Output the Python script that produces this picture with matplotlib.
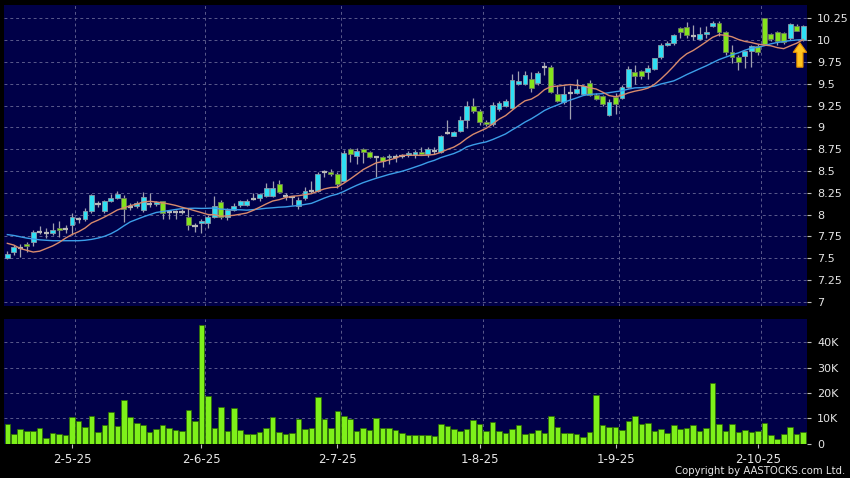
import numpy as np
import pandas as pd
import matplotlib
matplotlib.use("Agg")
import matplotlib.pyplot as plt
from matplotlib import patches

# daily bars, index 0 = first bar on screen (bar 10 is 2-5-25)
opens = [7.50, 7.57, 7.62, 7.66, 7.68, 7.80, 7.79, 7.79, 7.85, 7.83,
         7.88, 7.945, 7.945, 8.04, 8.12, 8.04, 8.155, 8.185, 8.19, 8.09,
         8.10, 8.05, 8.12, 8.12, 8.15, 8.025, 8.025, 8.025, 7.97, 7.87,
         7.90, 7.905, 7.97, 8.14, 7.97, 8.05, 8.105, 8.11, 8.18, 8.185,
         8.215, 8.215, 8.35, 8.21, 8.20, 8.10, 8.185, 8.275, 8.275, 8.485,
         8.49, 8.46, 8.385, 8.75, 8.67, 8.75, 8.715, 8.655, 8.655, 8.655,
         8.66, 8.675, 8.68, 8.68, 8.72, 8.695, 8.73, 8.72, 8.94, 8.905,
         8.96, 9.09, 9.245, 9.185, 9.06, 9.035, 9.205, 9.245, 9.22, 9.50,
         9.50, 9.55, 9.51, 9.69, 9.69, 9.38, 9.295, 9.395, 9.39, 9.38,
         9.505, 9.37, 9.36, 9.14, 9.35, 9.335, 9.46, 9.63, 9.65, 9.63,
         9.665, 9.81, 9.945, 9.965, 10.145, 10.155, 10.045, 10.015, 10.065, 10.16,
         10.20, 10.095, 9.86, 9.81, 9.82, 9.875, 9.935, 10.25, 10.065, 10.095,
         10.08, 10.02, 10.165, 10.00]
highs = [7.58, 7.65, 7.66, 7.68, 7.82, 7.87, 7.85, 7.90, 7.93, 7.88,
         8.02, 7.97, 8.08, 8.24, 8.16, 8.17, 8.23, 8.27, 8.22, 8.13,
         8.15, 8.26, 8.25, 8.16, 8.16, 8.05, 8.05, 8.06, 8.07, 7.90,
         7.95, 8.00, 8.21, 8.17, 8.08, 8.13, 8.17, 8.18, 8.25, 8.25,
         8.36, 8.39, 8.40, 8.25, 8.21, 8.20, 8.32, 8.39, 8.49, 8.51,
         8.52, 8.49, 8.74, 8.76, 8.76, 8.76, 8.73, 8.67, 8.67, 8.69,
         8.70, 8.70, 8.73, 8.74, 8.77, 8.77, 8.77, 8.91, 9.08, 8.96,
         9.13, 9.30, 9.34, 9.21, 9.08, 9.29, 9.30, 9.33, 9.61, 9.65,
         9.65, 9.64, 9.65, 9.75, 9.715, 9.48, 9.47, 9.48, 9.55, 9.49,
         9.54, 9.39, 9.37, 9.33, 9.39, 9.49, 9.70, 9.72, 9.66, 9.72,
         9.80, 9.97, 9.99, 10.07, 10.15, 10.21, 10.17, 10.15, 10.16, 10.22,
         10.22, 10.10, 9.95, 9.83, 9.88, 9.95, 9.96, 10.25, 10.08, 10.11,
         10.09, 10.20, 10.18, 10.17]
lows = [7.49, 7.535, 7.51, 7.57, 7.64, 7.78, 7.73, 7.76, 7.74, 7.79,
        7.77, 7.90, 7.93, 8.02, 8.09, 8.02, 8.14, 8.18, 7.92, 8.05,
        8.08, 8.03, 8.09, 8.10, 7.95, 7.95, 7.95, 8.01, 7.82, 7.80,
        7.79, 7.85, 7.96, 7.95, 7.94, 8.04, 8.09, 8.10, 8.17, 8.16,
        8.20, 8.20, 8.25, 8.17, 8.11, 8.06, 8.17, 8.25, 8.26, 8.43,
        8.44, 8.30, 8.38, 8.605, 8.575, 8.59, 8.65, 8.43, 8.54, 8.58,
        8.60, 8.65, 8.66, 8.65, 8.68, 8.66, 8.70, 8.71, 8.92, 8.90,
        8.95, 8.99, 9.17, 9.03, 9.01, 9.02, 9.19, 9.23, 9.21, 9.48,
        9.48, 9.41, 9.49, 9.60, 9.39, 9.29, 9.27, 9.10, 9.38, 9.37,
        9.36, 9.31, 9.25, 9.13, 9.15, 9.32, 9.45, 9.50, 9.55, 9.55,
        9.66, 9.78, 9.93, 9.95, 10.03, 10.02, 10.00, 10.00, 10.03, 10.15,
        10.05, 9.83, 9.74, 9.66, 9.68, 9.69, 9.83, 9.95, 9.99, 9.95,
        9.96, 10.00, 10.10, 9.99]
closes = [7.55, 7.63, 7.62, 7.635, 7.80, 7.80, 7.79, 7.82, 7.82, 7.83,
          7.97, 7.945, 8.04, 8.22, 8.12, 8.155, 8.185, 8.24, 8.06, 8.09,
          8.13, 8.20, 8.12, 8.14, 8.02, 8.025, 8.025, 8.025, 7.875, 7.87,
          7.925, 7.975, 8.10, 7.97, 8.05, 8.10, 8.15, 8.16, 8.18, 8.23,
          8.30, 8.31, 8.255, 8.21, 8.20, 8.165, 8.27, 8.275, 8.47, 8.485,
          8.46, 8.345, 8.71, 8.70, 8.73, 8.715, 8.655, 8.655, 8.615, 8.675,
          8.66, 8.675, 8.71, 8.72, 8.70, 8.75, 8.73, 8.90, 8.94, 8.945,
          9.09, 9.245, 9.185, 9.06, 9.035, 9.255, 9.285, 9.305, 9.54, 9.53,
          9.60, 9.45, 9.62, 9.69, 9.40, 9.305, 9.38, 9.395, 9.445, 9.475,
          9.37, 9.32, 9.265, 9.29, 9.265, 9.465, 9.665, 9.59, 9.59, 9.675,
          9.79, 9.945, 9.97, 10.06, 10.09, 10.06, 10.045, 10.07, 10.095, 10.20,
          10.095, 9.865, 9.81, 9.745, 9.87, 9.935, 9.86, 9.96, 10.015, 9.99,
          9.975, 10.19, 10.11, 10.165]
volume = [7800, 3700, 5700, 5000, 5000, 6100, 2400, 4200, 3700, 3600,
          10600, 9100, 6700, 10900, 4700, 7500, 12600, 7100, 17300, 10400,
          8300, 7300, 4600, 5800, 7200, 6200, 5400, 4900, 13200, 9100,
          46900, 18900, 6200, 14600, 5200, 14000, 5400, 3700, 3800, 4700,
          6100, 10700, 4500, 3700, 4100, 9600, 5900, 6200, 18300, 9600,
          6200, 12900, 10900, 9700, 5000, 6200, 5500, 10300, 6200, 6200,
          5300, 4200, 3300, 3300, 3300, 3400, 3000, 7700, 7000, 6000,
          5000, 6000, 9300, 7700, 5200, 8700, 5200, 4200, 6000, 7500,
          4000, 4300, 5300, 4200, 11000, 6400, 4300, 4200, 4000, 2500,
          4700, 19200, 7400, 6500, 6500, 5500, 8800, 10900, 7700, 8100,
          5000, 5800, 4300, 7400, 5800, 6100, 7400, 5000, 6200, 24000,
          7700, 5200, 7800, 4500, 5500, 4500, 5000, 8200, 3500, 2000,
          3800, 6500, 3800, 4500]

# moving averages before enough bars are on screen
ma10_head = [7.67, 7.65, 7.61, 7.59, 7.57, 7.58, 7.61, 7.64, 7.68]
ma20_head = [7.77, 7.76, 7.745, 7.73, 7.72, 7.71, 7.705, 7.70, 7.70, 7.70,
             7.70, 7.70, 7.705, 7.715, 7.73, 7.75, 7.78, 7.82, 7.87]

tick_idx = [10, 30, 51, 73, 94, 116]
tick_labels = ['2-5-25', '2-6-25', '2-7-25', '1-8-25', '1-9-25', '2-10-25']

BG = '#000048'
GRID = '#5a5a8c'
TXT = '#e6e6e6'
UP = '#2ee0f4'
DOWN = '#84e41c'
WICK = '#a0a0b0'

df = pd.DataFrame({'o': opens, 'h': highs, 'l': lows, 'c': closes, 'v': volume})
n = len(df)
x = np.arange(n)
ma10 = df['c'].rolling(10).mean()
ma10.iloc[:len(ma10_head)] = ma10_head
ma20 = df['c'].rolling(20).mean()
ma20.iloc[:len(ma20_head)] = ma20_head

plt.rcParams['font.family'] = ['DejaVu Sans']
fig = plt.figure(figsize=(8.5, 4.78), dpi=100, facecolor='black')
ax = fig.add_axes([0.00506, 0.3598, 0.944, 0.6297], facecolor=BG)
axv = fig.add_axes([0.00506, 0.0718, 0.944, 0.2609], facecolor=BG, sharex=ax)

# candles
up = df['c'] > df['o']
dn = df['c'] < df['o']
flat = df['c'] == df['o']
ax.vlines(x, df['l'], df['h'], color=WICK, lw=0.9, zorder=2)
body_lo = np.minimum(df['o'], df['c'])
body_h = (df['c'] - df['o']).abs()
ax.bar(x[up], body_h[up], bottom=body_lo[up], width=0.75, color=UP,
       edgecolor='#8a9aa8', lw=0.6, zorder=3)
ax.bar(x[dn], body_h[dn], bottom=body_lo[dn], width=0.75, color=DOWN,
       edgecolor='#6c7a60', lw=0.6, zorder=3)
ax.hlines(df['c'][flat], x[flat] - 0.4, x[flat] + 0.4, color='#b8b8b8', lw=1.6, zorder=3)

ax.plot(x, ma20, color='#3c9ee8', lw=1.0, zorder=4)
ax.plot(x, ma10, color='#d88a6c', lw=1.0, zorder=4)

# arrow under the last bar
ax_x = n - 1.5
tip = df['l'].iloc[-1] - 0.02
ax.add_patch(patches.FancyArrow(ax_x, tip - 0.28, 0, 0.28, width=0.95, head_width=2.1,
                                head_length=0.11, length_includes_head=True,
                                facecolor='#ffc41e', edgecolor='#e08a00', lw=0.8, zorder=5))

# volume
axv.bar(x, df['v'], width=0.86, color='#7ef01a', edgecolor='#2c6a00', lw=0.5, zorder=2)

ax.set_xlim(-0.47, n - 0.45)
ax.set_ylim(6.951, 10.403)
axv.set_ylim(0, 49300)

yt = np.arange(7, 10.26, 0.25)
ax.set_yticks(yt)
ax.set_yticklabels(['{:g}'.format(v) for v in yt])
axv.set_yticks([0, 10000, 20000, 30000, 40000])
axv.set_yticklabels(['0', '10K', '20K', '30K', '40K'])
axv.set_xticks(tick_idx)
axv.set_xticklabels(tick_labels)

for a in (ax, axv):
    for s in a.spines.values():
        s.set_visible(False)
    a.tick_params(axis='y', left=False, right=True, labelleft=False, labelright=True,
                  length=3, width=0.8, pad=4.5, colors='#bdbdbd', labelcolor=TXT, labelsize=8)
    a.yaxis.grid(True, color=GRID, lw=0.7, ls=(0, (3, 3)), zorder=0)
    for t in tick_idx:
        a.axvline(t + 0.5, color=GRID, lw=0.7, ls=(0, (3, 3)), zorder=0)
    a.set_axisbelow(True)

ax.tick_params(axis='x', bottom=False, labelbottom=False)
axv.tick_params(axis='x', length=3, width=0.8, pad=4, colors='#bdbdbd',
                labelcolor=TXT, labelsize=8.5)

fig.text(0.994, 0.004, 'Copyright by AASTOCKS.com Ltd.', ha='right', va='bottom',
         color=TXT, fontsize=7.3)

fig.savefig('out.png', dpi=100, facecolor='black')
